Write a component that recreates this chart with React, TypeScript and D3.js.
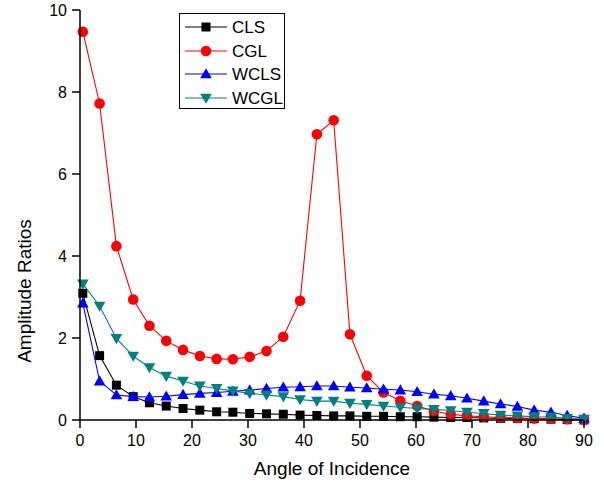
import React from "react";
import * as d3 from "d3";

const angles = [0.5, 3.5, 6.5, 9.5, 12.4, 15.4, 18.4, 21.4, 24.4, 27.3, 30.3, 33.3, 36.3, 39.3, 42.3, 45.3, 48.2, 51.2, 54.2, 57.2, 60.2, 63.2, 66.2, 69.1, 72.1, 75.1, 78.1, 81.1, 84.1, 87.0, 90.0];

const cls = [3.09, 1.57, 0.85, 0.57, 0.42, 0.34, 0.28, 0.24, 0.20, 0.19, 0.16, 0.15, 0.14, 0.12, 0.11, 0.10, 0.10, 0.09, 0.09, 0.08, 0.08, 0.07, 0.06, 0.06, 0.05, 0.04, 0.04, 0.03, 0.02, 0.01, 0.0];
const cgl = [9.47, 7.72, 4.24, 2.94, 2.30, 1.93, 1.71, 1.56, 1.49, 1.48, 1.54, 1.68, 2.03, 2.91, 6.97, 7.31, 2.09, 1.08, 0.67, 0.47, 0.34, 0.22, 0.14, 0.10, 0.08, 0.06, 0.05, 0.04, 0.03, 0.02, 0.01];
const wcls = [2.85, 0.95, 0.61, 0.57, 0.56, 0.58, 0.62, 0.65, 0.67, 0.70, 0.73, 0.77, 0.80, 0.81, 0.83, 0.83, 0.80, 0.78, 0.75, 0.73, 0.69, 0.63, 0.59, 0.53, 0.46, 0.39, 0.33, 0.24, 0.19, 0.11, 0.04];
const wcgl = [3.32, 2.78, 1.99, 1.56, 1.28, 1.07, 0.95, 0.83, 0.77, 0.71, 0.65, 0.61, 0.57, 0.50, 0.46, 0.46, 0.41, 0.38, 0.34, 0.31, 0.28, 0.26, 0.23, 0.19, 0.16, 0.12, 0.10, 0.08, 0.07, 0.04, 0.02];

const xTicks = [0, 10, 20, 30, 40, 50, 60, 70, 80, 90];
const yTicks = [0, 2, 4, 6, 8, 10];

const seriesNames = ["CLS", "CGL", "WCLS", "WCGL"];
const seriesData = [cls, cgl, wcls, wcgl];
const lineColors = ["#000000", "#ff0000", "#0000ff", "#008080"];
const markerColors = ["#000000", "#ff0000", "#0000ff", "#008080"];
const markerTypes = ["square", "circle", "triangle", "triangleDown"];

const FONT = "Arial, 'Liberation Sans', sans-serif";

function Marker({ type, x, y, color }: { type: string; x: number; y: number; color: string }) {
  if (type === "square") {
    return <rect x={x - 4.5} y={y - 4.5} width={9} height={9} fill={color} />;
  }
  if (type === "circle") {
    return <circle cx={x} cy={y} r={5.3} fill={color} />;
  }
  if (type === "triangle") {
    const s = 5.8;
    return <path d={`M${x},${y - s}L${x + s},${y + s * 0.75}L${x - s},${y + s * 0.75}Z`} fill={color} />;
  }
  const s = 5.8;
  return <path d={`M${x},${y + s}L${x + s},${y - s * 0.75}L${x - s},${y - s * 0.75}Z`} fill={color} />;
}

export default function App() {
  const width = 604;
  const height = 483;
  const x = d3.scaleLinear().domain([0, 90]).range([80, 584]);
  const y = d3.scaleLinear().domain([0, 10]).range([420, 10]);

  const line = d3
    .line<number>()
    .x((_, i) => x(angles[i]))
    .y((d) => y(d));

  const legendRows = [27, 51, 74, 98];

  return (
    <svg
      width={width}
      height={height}
      style={{ position: "absolute", left: 0, top: 0, background: "#fff" }}
      fontFamily={FONT}
    >
      <rect x={0} y={0} width={width} height={height} fill="#fff" />
      {seriesData.map((data, si) => (
        <g key={si}>
          <path d={line(data) || ""} fill="none" stroke={lineColors[si]} strokeWidth={1.1} />
          {data.map((v, i) => (
            <Marker key={i} type={markerTypes[si]} x={x(angles[i])} y={y(v)} color={markerColors[si]} />
          ))}
        </g>
      ))}

      <line x1={80} x2={80} y1={y(10)} y2={420} stroke="#000" strokeWidth={1.5} />
      <line x1={80} x2={x(90)} y1={420} y2={420} stroke="#000" strokeWidth={1.5} />
      {xTicks.map((t) => (
        <g key={"x" + t}>
          <line x1={x(t)} x2={x(t)} y1={420} y2={428} stroke="#000" strokeWidth={1.5} />
          <text x={x(t)} y={446} textAnchor="middle" fontSize={16} fill="#000">
            {t}
          </text>
        </g>
      ))}
      {yTicks.map((t) => (
        <g key={"y" + t}>
          <line x1={72} x2={80} y1={y(t)} y2={y(t)} stroke="#000" strokeWidth={1.5} />
          <text x={67} y={y(t) + 5.5} textAnchor="end" fontSize={16} fill="#000">
            {t}
          </text>
        </g>
      ))}

      <text x={332} y={475} textAnchor="middle" fontSize={19} fill="#000">
        Angle of Incidence
      </text>
      <text
        transform={`translate(31,291) rotate(-90)`}
        textAnchor="middle"
        fontSize={19}
        fill="#000"
      >
        Amplitude Ratios
      </text>

      <rect x={179.5} y={13.5} width={105} height={95} fill="#fff" stroke="#000" strokeWidth={1} />
      {seriesNames.map((name, i) => (
        <g key={name}>
          <line x1={185} x2={227} y1={legendRows[i]} y2={legendRows[i]} stroke={lineColors[i]} strokeWidth={1.1} />
          <Marker type={markerTypes[i]} x={206} y={legendRows[i]} color={markerColors[i]} />
          <text x={232} y={legendRows[i] + 6} fontSize={17} fill="#000">
            {name}
          </text>
        </g>
      ))}
    </svg>
  );
}
